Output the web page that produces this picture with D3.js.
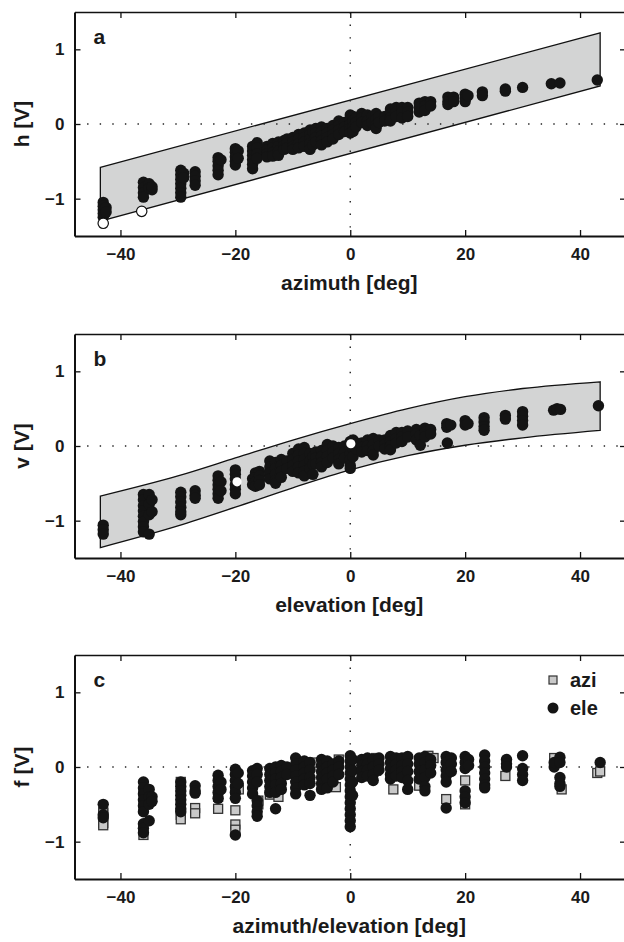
<!DOCTYPE html>
<html><head><meta charset="utf-8">
<script src="https://cdn.jsdelivr.net/npm/d3@7/dist/d3.min.js"></script>
<style>
body{margin:0;background:#fff}
svg{display:block}
text{font-family:"Liberation Sans",Arial,Helvetica,sans-serif;font-weight:bold;fill:#1a1a1a}
</style>
</head><body>
<svg id="chart" width="624" height="942"></svg>
<script>
// ---------- shared axes ----------
const xTicks = [-40, -20, 0, 20, 40];
const yTicks = [-1, 0, 1];
const xDomain = [-48, 48];
const yDomain = [-1.5, 1.5];

// ---------- panel a : h vs azimuth ----------
const bandA_x = [-43.5, 43.5];
const bandA_upper = [-0.58, 1.22];
const bandA_lower = [-1.30, 0.51];
const hClusters = [
  [-43, [-1.05,-1.10,-1.15,-1.20,-1.25]], [-42.5, [-1.12,-1.18]],
  [-36, [-0.78,-0.85,-0.92,-0.98]], [-35, [-0.80,-0.86]], [-34.5, [-0.88,-0.84]],
  [-29.5, [-0.62,-0.68,-0.74,-0.80,-0.86,-0.92,-0.98]], [-29, [-0.66,-0.72]],
  [-27, [-0.64,-0.70,-0.76,-0.82]],
  [-23, [-0.45,-0.50,-0.56,-0.62,-0.68]], [-22.5, [-0.48]],
  [-20, [-0.33,-0.38,-0.44,-0.50,-0.55]], [-19.5, [-0.36,-0.46]],
  [-17, [-0.30,-0.36,-0.42,-0.48,-0.54,-0.60]], [-16.2, [-0.25,-0.32,-0.40,-0.46]],
  [-14.5, [-0.30,-0.35,-0.40,-0.44]], [-13.5, [-0.26,-0.32,-0.38,-0.43]],
  [-12.5, [-0.24,-0.30,-0.36,-0.42]], [-11.5, [-0.22,-0.28,-0.34]], [-11, [-0.20,-0.26,-0.32]],
  [-10, [-0.18,-0.24,-0.30,-0.34]], [-9, [-0.14,-0.20,-0.26,-0.32]],
  [-8, [-0.12,-0.18,-0.24,-0.30]], [-7, [-0.08,-0.14,-0.20,-0.26,-0.34]], [-6.5, [-0.10,-0.28]],
  [-6, [-0.06,-0.12,-0.18,-0.24]],
  [-5, [-0.04,-0.10,-0.16,-0.22,-0.28]], [-4, [-0.06,-0.12,-0.18,-0.24]],
  [-3, [-0.02,-0.08,-0.14,-0.20]], [-2, [0.04,-0.02,-0.08,-0.14]], [-1, [0.02,-0.04,-0.10]],
  [0, [0.12,0.06,0.00,-0.06,-0.12]], [0.5, [0.10,0.04,-0.04,-0.10]], [1, [0.08,0.02,-0.04]],
  [2, [0.14,0.08,0.02]], [3, [0.12,0.04,-0.02]], [3.8, [0.10,0.02]], [4.5, [0.14,0.06,-0.02,-0.06]], [5, [0.10,0.02]],
  [6, [0.10,0.04]],
  [7, [0.20,0.14,0.08,0.04]], [8, [0.22,0.16,0.10]], [9, [0.22,0.16,0.08]], [10, [0.22,0.16,0.10]],
  [12, [0.28,0.22,0.16]], [13, [0.30,0.24,0.18]], [14, [0.30,0.24]],
  [17, [0.36,0.30,0.26]], [18, [0.36,0.30]],
  [20, [0.40,0.34,0.30]], [20.5, [0.38]],
  [23, [0.43,0.38]], [27, [0.47,0.44]], [30, [0.49]],
  [35, [0.54]], [36.5, [0.55]], [43, [0.59]]
];
const hOpen = [[-43, -1.33], [-36.3, -1.17]];

// ---------- panel b : v vs elevation ----------
const bandB_x = [-43.5, -30, -20, -10, 0, 10, 20, 30, 43.5];
const bandB_upper = [-0.67, -0.40, -0.16, 0.08, 0.30, 0.50, 0.66, 0.77, 0.86];
const bandB_lower = [-1.36, -1.07, -0.82, -0.56, -0.32, -0.13, 0.01, 0.11, 0.21];
const vClusters = [
  [-43, [-1.06,-1.12,-1.18]],
  [-36, [-0.65,-0.72,-0.80,-0.87,-0.94,-1.01,-1.08,-1.15]], [-35, [-0.65,-0.78,-0.92,-1.18]], [-34.5, [-0.72,-0.88]],
  [-29.5, [-0.62,-0.68,-0.75,-0.82,-0.88,-0.92]],
  [-27, [-0.60,-0.66,-0.70]],
  [-23, [-0.40,-0.46,-0.52,-0.58,-0.64,-0.70]], [-22.5, [-0.48,-0.60]],
  [-20, [-0.32,-0.38,-0.44,-0.52,-0.58,-0.64]],
  [-17, [-0.44,-0.52]], [-16.5, [-0.36,-0.42,-0.48,-0.54]], [-15.8, [-0.34,-0.40,-0.46,-0.52]],
  [-14, [-0.20,-0.28,-0.36,-0.44]], [-13, [-0.22,-0.30,-0.38,-0.46,-0.50]],
  [-12, [-0.18,-0.26,-0.34,-0.42]], [-11, [-0.20,-0.30]],
  [-10, [-0.10,-0.18,-0.26,-0.34]], [-9, [-0.04,-0.12,-0.20,-0.28,-0.36]],
  [-8, [-0.02,-0.10,-0.18,-0.26,-0.34,-0.40]], [-7, [-0.10,-0.20,-0.30]], [-6.5, [-0.14,-0.24,-0.38]],
  [-6, [-0.08,-0.16,-0.24]],
  [-5, [-0.06,-0.14,-0.22,-0.28]], [-4, [0.02,-0.06,-0.14,-0.22]],
  [-3, [0.00,-0.08,-0.16]], [-2, [-0.02,-0.10,-0.18,-0.24]], [-1, [0.00,-0.08,-0.16]],
  [0, [0.06,-0.02,-0.10,-0.18,-0.26,-0.30]], [0.5, [0.08,-0.04,-0.14]], [1, [0.04,-0.04]],
  [2, [0.04,-0.02,-0.08]], [3, [0.08,0.00,-0.06]], [4, [0.10,0.02,-0.06,-0.12]], [5, [0.08,0.00]],
  [6, [0.08,0.02,-0.04]],
  [7, [0.14,0.06,0.00,-0.05]], [8, [0.18,0.10,0.04]], [9, [0.18,0.12,0.06]], [10, [0.20,0.12]],
  [11.5, [0.22,0.16,0.08]], [12.2, [0.14,0.01]], [13, [0.24,0.18,0.12]], [14, [0.22,0.16]],
  [16.8, [0.30,0.25]], [17.5, [0.28]], [16.9, [0.04]],
  [20, [0.34,0.28]], [20.5, [0.30]],
  [23.3, [0.38,0.32,0.26,0.21]],
  [27, [0.41,0.36]],
  [30, [0.46,0.40,0.34,0.28]],
  [35.4, [0.48]], [36, [0.50]], [36.6, [0.49]],
  [43.2, [0.54]]
];
const vOpen = [[-19.7, -0.48], [0.1, 0.03]];

// ---------- panel c : f vs azimuth/elevation ----------
const aziClusters = [
  [-43, [-0.60,-0.62,-0.75,-0.78]],
  [-36, [-0.33,-0.52,-0.91]], [-35, [-0.45]],
  [-29.5, [-0.20,-0.64,-0.70]],
  [-27, [-0.55,-0.62]],
  [-23, [-0.40,-0.56]],
  [-20, [-0.30,-0.58,-0.77,-0.84]], [-19.4, [-0.30]],
  [-16, [-0.45,-0.50]],
  [-14, [-0.37]], [-12.5, [-0.40]],
  [-6.5, [0.06]],
  [-2.5, [-0.27]], [-2, [0.10]],
  [4.5, [0.12,-0.05]],
  [7.5, [-0.30]], [12, [-0.25]], [13.6, [0.15]], [14.5, [0.12]],
  [16.7, [-0.43]], [20, [-0.18,-0.50]],
  [27, [-0.12]],
  [35.5, [0.12]], [36.8, [-0.30]],
  [43, [-0.08]], [43.5, [-0.06]]
];
const eleClusters = [
  [-43, [-0.50,-0.64,-0.68]],
  [-36, [-0.20,-0.28,-0.36,-0.44,-0.52,-0.60,-0.76,-0.82,-0.88]], [-35, [-0.30,-0.40,-0.50,-0.72]], [-34.5, [-0.40,-0.46]],
  [-29.5, [-0.20,-0.26,-0.32,-0.38,-0.44,-0.50,-0.56,-0.60]],
  [-27, [-0.25,-0.32,-0.35]],
  [-23, [-0.11,-0.18,-0.26,-0.34,-0.42]], [-22.5, [-0.20,-0.30]],
  [-20, [-0.03,-0.10,-0.18,-0.26,-0.34,-0.42,-0.91]], [-19.5, [-0.08,-0.22]],
  [-17, [-0.05,-0.12,-0.20,-0.28,-0.36]], [-16.2, [-0.02,-0.10,-0.20,-0.45,-0.52,-0.60,-0.66]],
  [-14, [-0.02,-0.10,-0.18,-0.26,-0.34]], [-13, [0.00,-0.08,-0.16,-0.24,-0.34,-0.56]],
  [-12, [0.02,-0.06,-0.14,-0.22,-0.30]], [-11, [0.00,-0.10]],
  [-9.5, [0.12,0.04,-0.04,-0.12,-0.20,-0.28,-0.36]], [-8, [0.08,0.00,-0.08,-0.16,-0.24]],
  [-7, [0.06,-0.04,-0.14,-0.22,-0.38]],
  [-5, [0.10,0.02,-0.06,-0.14,-0.22,-0.30]], [-4, [0.08,0.00,-0.08,-0.16,-0.28]],
  [-3, [0.04,-0.04,-0.12,-0.20]], [-2, [0.08,0.00,-0.10]],
  [0, [0.15,0.08,0.00,-0.08,-0.16,-0.24,-0.32,-0.40,-0.48,-0.56,-0.64,-0.72,-0.80]], [0.4, [0.10,-0.05,-0.20,-0.38]],
  [2, [0.10,0.02,-0.06,-0.14]], [3, [0.12,0.04,-0.04,-0.12]], [4, [0.10,0.00,-0.10,-0.18]], [5, [0.12,0.04,-0.04]],
  [7, [0.14,0.06,-0.02,-0.10,-0.16]], [8, [0.12,0.04,-0.04,-0.12]], [9, [0.12,0.02,-0.06,-0.14]],
  [10, [0.14,0.04,-0.06,-0.18,-0.30]],
  [12, [0.12,0.04,-0.06,-0.16]], [13, [0.14,0.06,-0.04,-0.14,-0.26,-0.32]], [14, [0.10,0.02,-0.08]],
  [16.7, [0.14,0.06,-0.04,-0.12,-0.20,-0.55]], [17.6, [0.12,0.04,-0.06]],
  [20, [0.14,0.06,-0.02,-0.32,-0.40,-0.48]], [20.6, [0.10,0.02]],
  [23.4, [0.16,0.08,0.00,-0.08,-0.16,-0.24,-0.28]],
  [27.2, [0.10,0.04,0.00]],
  [30, [0.15,-0.02,-0.10,-0.18]],
  [35.5, [0.00,0.06]], [36.5, [0.13,0.06,-0.14,-0.22,-0.26]],
  [43.5, [0.06]]
];
const legendLabels = ["azi", "ele"];

// ---------- drawing ----------
const flat = cl => cl.flatMap(([x, ys]) => ys.map(y => [x, y]));
const svg = d3.select("#chart");
const left = 74.5, right = 626;
const x = d3.scaleLinear().domain(xDomain).range([left, right]);
const R = 5.7;

const panels = [
  {top: 12, bottom: 236, letter: "a", ylab: "h [V]", xlab: "azimuth [deg]"},
  {top: 334, bottom: 558, letter: "b", ylab: "v [V]", xlab: "elevation [deg]"},
  {top: 655, bottom: 879, letter: "c", ylab: "f [V]", xlab: "azimuth/elevation [deg]"}
];
const fmt = d => d < 0 ? "\u2212" + Math.abs(d) : String(d);

panels.forEach((p, i) => {
  const y = d3.scaleLinear().domain(yDomain).range([p.bottom, p.top]);
  const g = svg.append("g");

  // bands
  if (i === 0) {
    const pts = bandA_x.map((d, k) => [x(d), y(bandA_upper[k])])
      .concat(bandA_x.map((d, k) => [x(d), y(bandA_lower[k])]).reverse());
    g.append("path").attr("d", d3.line()(pts) + "Z")
      .attr("fill", "#d3d4d4").attr("stroke", "#111").attr("stroke-width", 1.3);
  }
  if (i === 1) {
    const up = d3.line().curve(d3.curveMonotoneX)(bandB_x.map((d, k) => [x(d), y(bandB_upper[k])]));
    const lowPts = bandB_x.map((d, k) => [x(d), y(bandB_lower[k])]).reverse();
    const low = d3.line().curve(d3.curveMonotoneX)(lowPts);
    g.append("path").attr("d", up + "L" + low.slice(1) + "Z")
      .attr("fill", "#d3d4d4").attr("stroke", "#111").attr("stroke-width", 1.3);
  }

  // dotted zero lines
  g.append("line").attr("x1", x(0)).attr("x2", x(0)).attr("y1", p.top).attr("y2", p.bottom)
    .attr("stroke", "#222").attr("stroke-width", 1.4).attr("stroke-dasharray", "1.4,11.2");
  g.append("line").attr("x1", left).attr("x2", right).attr("y1", y(0)).attr("y2", y(0))
    .attr("stroke", "#222").attr("stroke-width", 1.4).attr("stroke-dasharray", "1.4,11.2");

  // points
  if (i === 0 || i === 1) {
    const cl = i === 0 ? hClusters : vClusters;
    const op = i === 0 ? hOpen : vOpen;
    g.selectAll("circle.f").data(flat(cl)).join("circle")
      .attr("cx", d => x(d[0])).attr("cy", d => y(d[1])).attr("r", R)
      .attr("fill", "#141414");
    g.selectAll("circle.o").data(op).join("circle").attr("class", "o")
      .attr("cx", d => x(d[0])).attr("cy", d => y(d[1])).attr("r", i === 0 ? 5.2 : 4.6)
      .attr("fill", "#fff").attr("stroke", i === 0 ? "#111" : "none").attr("stroke-width", 1.2);
  } else {
    g.selectAll("rect.s").data(flat(aziClusters)).join("rect").attr("class", "s")
      .attr("x", d => x(d[0]) - 4.5).attr("y", d => y(d[1]) - 4.5).attr("width", 9).attr("height", 9)
      .attr("fill", "#c9c9c9").attr("stroke", "#333").attr("stroke-width", 1.3);
    g.selectAll("circle.e").data(flat(eleClusters)).join("circle").attr("class", "e")
      .attr("cx", d => x(d[0])).attr("cy", d => y(d[1])).attr("r", R)
      .attr("fill", "#141414");
    // legend
    const lg = g.append("g");
    lg.append("rect").attr("x", 549).attr("y", 676).attr("width", 8).attr("height", 8)
      .attr("fill", "#c9c9c9").attr("stroke", "#333").attr("stroke-width", 1.2);
    lg.append("circle").attr("cx", 553).attr("cy", 708).attr("r", 5.5).attr("fill", "#141414");
    lg.append("text").attr("x", 570).attr("y", 687).attr("font-size", 20).text(legendLabels[0]);
    lg.append("text").attr("x", 570).attr("y", 715).attr("font-size", 20).text(legendLabels[1]);
  }

  // axes (ticks inward, MATLAB box)
  const ax = (gen, tr) => {
    const a = g.append("g").attr("transform", tr).call(gen);
    a.select(".domain").attr("stroke", "#111").attr("stroke-width", 2);
    a.selectAll(".tick line").attr("stroke", "#111").attr("stroke-width", 1.3);
    a.selectAll("text").attr("font-size", 17).attr("fill", "#1a1a1a")
      .attr("font-family", "'Liberation Sans',Arial,sans-serif").attr("font-weight", "bold");
    return a;
  };
  ax(d3.axisBottom(x).tickValues(xTicks).tickSize(-6).tickSizeOuter(0).tickPadding(12).tickFormat(fmt),
     `translate(0,${p.bottom})`);
  ax(d3.axisTop(x).tickValues(xTicks).tickSize(-6).tickSizeOuter(0).tickFormat(""),
     `translate(0,${p.top})`).select(".domain").attr("stroke-width", 1.6);
  ax(d3.axisLeft(y).tickValues(yTicks).tickSize(-6).tickSizeOuter(0).tickPadding(10).tickFormat(fmt),
     `translate(${left},0)`);
  ax(d3.axisRight(y).tickValues(yTicks).tickSize(-6).tickSizeOuter(0).tickFormat(""),
     `translate(${right},0)`);

  // labels
  g.append("text").attr("x", left + 19).attr("y", p.top + 32).attr("font-size", 21).text(p.letter);
  g.append("text").attr("x", (left + right) / 2 - 1).attr("y", p.bottom + 54)
    .attr("text-anchor", "middle").attr("font-size", 21).text(p.xlab);
  g.append("text").attr("transform", `translate(29,${(p.top + p.bottom) / 2}) rotate(-90)`)
    .attr("text-anchor", "middle").attr("font-size", 21).text(p.ylab);
});
</script>
</body></html>
